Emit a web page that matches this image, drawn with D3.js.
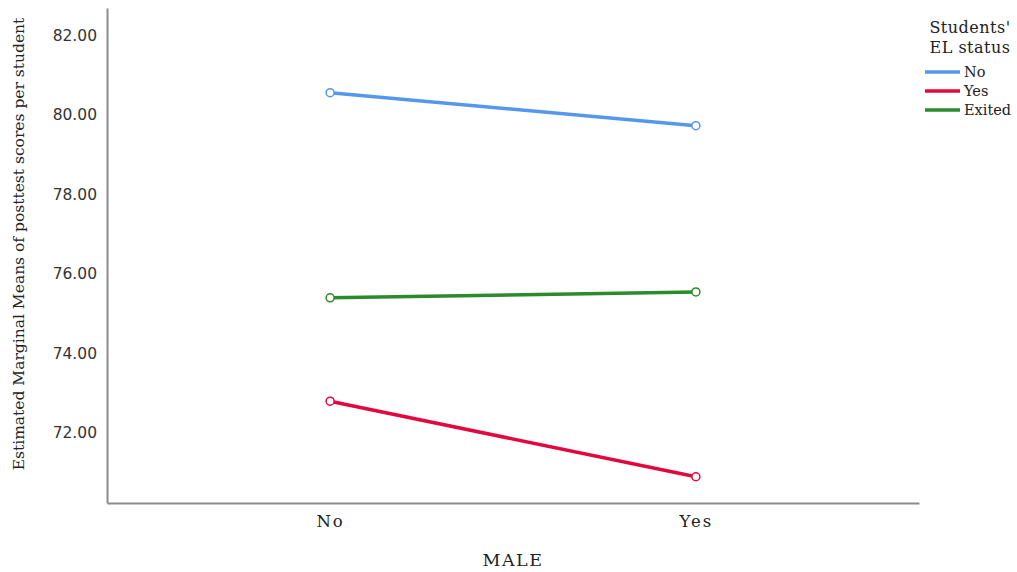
<!DOCTYPE html>
<html lang="en">
<head>
  <meta charset="UTF-8">
  <title>Estimated Marginal Means</title>
  <style>
    body { margin: 0; background: #fff; }
    #main { width: 1017px; height: 572px; }
  </style>
</head>
<body>
  <div id="main"></div>
  <script src="https://d3js.org/d3.v7.min.js"></script>
  <script>
    // data
    const categories = ['No', 'Yes']
    const seriesNames = ['No', 'Yes', 'Exited']
    const seriesNo = [80.55, 79.72]
    const seriesYes = [72.79, 70.89]
    const seriesExited = [75.39, 75.54]
    const yTicks = [72, 74, 76, 78, 80, 82]
    const colors = ['#5597ec', '#e3063f', '#2b8a2b']

    const series = [seriesNo, seriesYes, seriesExited]

    const serif = 'DejaVu Serif, serif'
    const sans = 'DejaVu Sans, sans-serif'

    const [width, height] = [1017, 572]
    const svg = d3.select('#main').append('svg')
      .attr('width', width)
      .attr('height', height)
      .attr('viewBox', `0 0 ${width} ${height}`)

    const plotLeft = 107, plotRight = 919, plotTop = 8, plotBottom = 503

    const x = d3.scalePoint()
      .domain(categories)
      .range([plotLeft, plotRight])
      .padding(0.61)

    const y = d3.scaleLinear()
      .domain([70.23, 82.68])
      .range([plotBottom, plotTop])

    // y axis
    const yAxis = svg.append('g')
      .attr('transform', `translate(${plotLeft},0)`)
      .call(d3.axisLeft(y).tickValues(yTicks).tickSize(0).tickPadding(10).tickFormat(d3.format('.2f')))
    yAxis.select('.domain').attr('stroke', '#8c8c8c').attr('stroke-width', 2)
    yAxis.selectAll('text')
      .attr('font-family', sans)
      .attr('font-size', 15.5)
      .attr('fill', '#333')

    // x axis
    const xAxis = svg.append('g')
      .attr('transform', `translate(0,${plotBottom})`)
      .call(d3.axisBottom(x).tickSize(0).tickPadding(12))
    xAxis.select('.domain').attr('stroke', '#8c8c8c').attr('stroke-width', 2)
    xAxis.selectAll('text')
      .attr('font-family', serif)
      .attr('font-size', 16.5)
      .attr('letter-spacing', 2)
      .attr('fill', '#222')

    // axis titles
    svg.append('text')
      .attr('x', (plotLeft + plotRight) / 2)
      .attr('y', 566)
      .attr('text-anchor', 'middle')
      .attr('font-family', serif)
      .attr('font-size', 17.5)
      .attr('letter-spacing', 1.5)
      .attr('fill', '#222')
      .text('MALE')

    svg.append('text')
      .attr('transform', 'translate(24,244) rotate(-90)')
      .attr('text-anchor', 'middle')
      .attr('font-family', serif)
      .attr('font-size', 15.5)
      .attr('fill', '#222')
      .text('Estimated Marginal Means of posttest scores per student')

    // lines
    const line = d3.line()
      .x((d, i) => x(categories[i]))
      .y(d => y(d))

    series.forEach((s, k) => {
      svg.append('path')
        .datum(s)
        .attr('d', line)
        .attr('fill', 'none')
        .attr('stroke', colors[k])
        .attr('stroke-width', 3.5)

      svg.selectAll(null)
        .data(s)
        .join('circle')
        .attr('cx', (d, i) => x(categories[i]))
        .attr('cy', d => y(d))
        .attr('r', 4)
        .attr('fill', '#fff')
        .attr('stroke', colors[k])
        .attr('stroke-width', 1.5)
    })

    // legend
    const legend = svg.append('g')
      .attr('font-family', serif)
      .attr('fill', '#222')

    legend.append('text')
      .attr('x', 970).attr('y', 33)
      .attr('text-anchor', 'middle')
      .attr('font-size', 16)
      .attr('letter-spacing', 0.5)
      .text("Students'")
    legend.append('text')
      .attr('x', 970).attr('y', 53)
      .attr('text-anchor', 'middle')
      .attr('font-size', 16)
      .attr('letter-spacing', 0.5)
      .text('EL status')

    const legendY = d3.scalePoint().domain(seriesNames).range([72, 110])

    seriesNames.forEach((name, k) => {
      legend.append('line')
        .attr('x1', 925).attr('x2', 960)
        .attr('y1', legendY(name)).attr('y2', legendY(name))
        .attr('stroke', colors[k])
        .attr('stroke-width', 3.5)
      legend.append('text')
        .attr('x', 964)
        .attr('y', legendY(name) + 5)
        .attr('font-size', 14.5)
        .text(name)
    })
  </script>
</body>
</html>
